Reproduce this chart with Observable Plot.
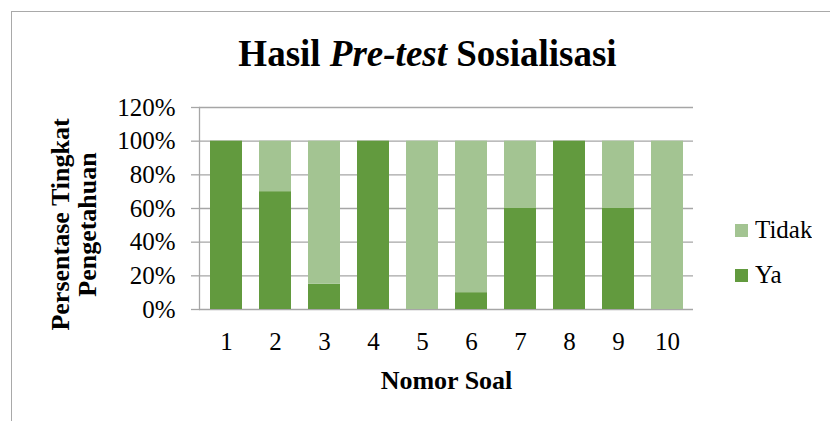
<!DOCTYPE html>
<html>
<head>
<meta charset="utf-8">
<script src="https://cdn.jsdelivr.net/npm/d3@7"></script>
<script src="https://cdn.jsdelivr.net/npm/@observablehq/plot@0.6"></script>
<style>
  html, body { margin: 0; padding: 0; background: #fff; }
  #wrap { position: relative; width: 830px; height: 421px; overflow: hidden; font-family: "Liberation Serif", "Times New Roman", serif; }
  #border { position: absolute; left: 11px; top: 11px; width: 900px; height: 500px; border-top: 1.5px solid #a9a9a9; border-left: 1.5px solid #a9a9a9; }
  #title { position: absolute; left: 427.5px; top: 35px; transform: translateX(-50%); white-space: nowrap; font-size: 37px; line-height: 37px; font-weight: bold; color: #000; }
  #chart { position: absolute; left: 0; top: 0; }
  #legend { position: absolute; left: 735px; top: 207.5px; }
  .lg-swatches { font-family: "Liberation Serif", "Times New Roman", serif !important; font-size: 25px !important; color: #000; margin: 0 !important; }
  .lg-swatch { height: 45px; padding: 0 !important; }
  .lg-swatch > svg { margin-right: 7px !important; }
</style>
</head>
<body>
<div id="wrap">
  <div id="border"></div>
  <div id="chart"></div>
  <div id="title">Hasil <i>Pre-test</i> Sosialisasi</div>
  <div id="legend"></div>
</div>
<script>
const questions = ["1", "2", "3", "4", "5", "6", "7", "8", "9", "10"];
const yaValues = [100, 70, 15, 100, 0, 10, 60, 100, 60, 0];
const tidakValues = [0, 30, 85, 0, 100, 90, 40, 0, 40, 100];
const seriesNames = ["Tidak", "Ya"];
const seriesColors = ["#a3c492", "#629a3e"];
const yTicks = [0, 20, 40, 60, 80, 100, 120];
const titleY = "Persentase Tingkat\nPengetahuan";
const titleX = "Nomor Soal";

const rows = [];
questions.forEach((q, i) => {
  rows.push({soal: q, series: "Ya", value: yaValues[i]});
  rows.push({soal: q, series: "Tidak", value: tidakValues[i]});
});

const font = "'Liberation Serif', 'Times New Roman', serif";
const grid = "#a6a6a6";

const chart = Plot.plot({
  width: 830,
  height: 421,
  marginLeft: 199,
  marginRight: 137,
  marginTop: 107,
  marginBottom: 112,
  style: {fontFamily: font, background: "transparent", color: "#000", overflow: "visible"},
  x: {domain: questions, paddingInner: 0.35, paddingOuter: 0.175},
  y: {domain: [0, 120]},
  color: {domain: seriesNames, range: seriesColors},
  marks: [
    Plot.gridY(yTicks, {stroke: grid, strokeOpacity: 1, strokeWidth: 1.3}),
    Plot.barY(rows, {x: "soal", y: "value", fill: "series", order: ["Ya", "Tidak"]}),
    Plot.frame({anchor: "left", stroke: grid, strokeWidth: 1.3}),
    Plot.axisY(yTicks, {tickFormat: d => d + "%", tickSize: 8, tickPadding: 16, fontSize: 25, stroke: grid, strokeWidth: 1.3, fill: "#000", label: null}),
    Plot.axisX({tickSize: 0, tickPadding: 23, fontSize: 25, fill: "#000", label: null}),
    Plot.text([titleX], {frameAnchor: "bottom", dy: 79, fontSize: 26, fontWeight: "bold", fill: "#000", lineAnchor: "bottom"}),
    Plot.text([titleY], {frameAnchor: "left", dx: -125.5, dy: 16, rotate: -90, textAnchor: "middle", lineAnchor: "middle", lineHeight: 1.05, fontSize: 26, fontWeight: "bold", fill: "#000"})
  ]
});
document.getElementById("chart").appendChild(chart);

const legend = Plot.legend({
  color: {domain: seriesNames, range: seriesColors},
  legend: "swatches",
  columns: 1,
  swatchSize: 13,
  className: "lg"
});
document.getElementById("legend").appendChild(legend);
</script>
</body>
</html>
